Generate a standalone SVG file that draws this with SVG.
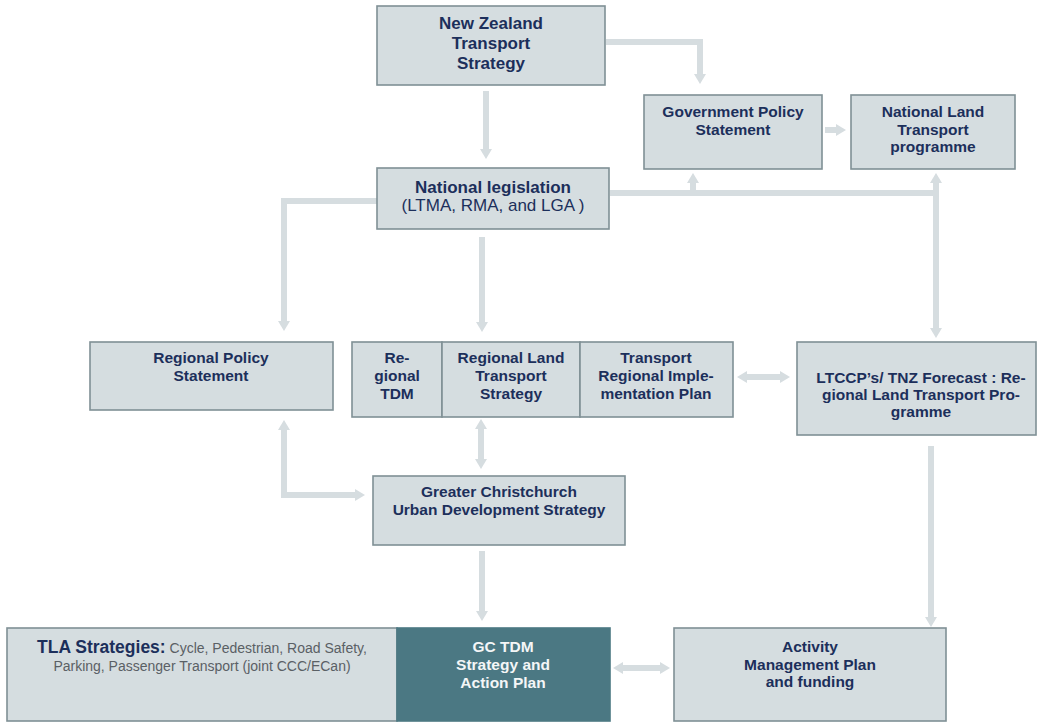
<svg xmlns="http://www.w3.org/2000/svg" width="1038" height="722" viewBox="0 0 1038 722">
<style>
.box{fill:#d5dde0;stroke:#7f9095;stroke-width:1.6}
.dark{fill:#4b7883;stroke:#4b7883;stroke-width:1.6}
.t{font-family:"Liberation Sans",Arial,sans-serif;font-weight:bold;font-size:15.5px;fill:#1c2f5b;text-anchor:middle}
.big{font-size:17px}
.w{fill:#f4f6f7}
.reg{font-family:"Liberation Sans",Arial,sans-serif;font-size:14px;fill:#5a6065}
.c{fill:none;stroke:#d6dde0;stroke-width:6}
</style>
<defs>
<marker id="ah" viewBox="0 0 10 12" markerWidth="10" markerHeight="12" refX="2" refY="6" orient="auto-start-reverse" markerUnits="userSpaceOnUse">
<path d="M0,0 L10,6 L0,12 z" fill="#d6dde0"/>
</marker>
</defs>
<rect width="1038" height="722" fill="#ffffff"/>
<g id="connectors">
<path class="c" d="M486,91 V151" marker-end="url(#ah)"/>
<path class="c" d="M606,42 H700 V76" marker-end="url(#ah)"/>
<path class="c" d="M825,130 H838" marker-end="url(#ah)"/>
<path class="c" d="M610,193 H936"/>
<path class="c" d="M693,193 V181" marker-end="url(#ah)"/>
<path class="c" d="M936,181 V330" marker-start="url(#ah)" marker-end="url(#ah)"/>
<path class="c" d="M377,201 H284 V323" marker-end="url(#ah)"/>
<path class="c" d="M482,237 V324" marker-end="url(#ah)"/>
<path class="c" d="M284,428 V495 H357" marker-start="url(#ah)" marker-end="url(#ah)"/>
<path class="c" d="M481,427 V461" marker-start="url(#ah)" marker-end="url(#ah)"/>
<path class="c" d="M482,551 V613" marker-end="url(#ah)"/>
<path class="c" d="M745,377 H782" marker-start="url(#ah)" marker-end="url(#ah)"/>
<path class="c" d="M931,446 V619" marker-end="url(#ah)"/>
<path class="c" d="M621,668 H662" marker-start="url(#ah)" marker-end="url(#ah)"/>
</g>
<g id="nzts">
<rect class="box" x="377" y="6" width="228" height="79"/>
<text class="t big" x="491" y="29">New Zealand</text>
<text class="t big" x="491" y="49">Transport</text>
<text class="t big" x="491" y="69">Strategy</text>
</g>
<g id="gps">
<rect class="box" x="644" y="95" width="178" height="74"/>
<text class="t" x="733" y="117">Government Policy</text>
<text class="t" x="733" y="135">Statement</text>
</g>
<g id="nltp">
<rect class="box" x="851" y="95" width="164" height="74"/>
<text class="t" x="933" y="117">National Land</text>
<text class="t" x="933" y="135">Transport</text>
<text class="t" x="933" y="152">programme</text>
</g>
<g id="national-legislation">
<rect class="box" x="377" y="168" width="232" height="61"/>
<text class="t big" x="493" y="193">National legislation</text>
<text class="t big" x="493" y="211" style="font-weight:normal">(LTMA, RMA, and LGA )</text>
</g>
<g id="rps">
<rect class="box" x="90" y="342" width="243" height="68"/>
<text class="t" x="211" y="363">Regional Policy</text>
<text class="t" x="211" y="381">Statement</text>
</g>
<g id="regional-tdm">
<rect class="box" x="352" y="342" width="90" height="75"/>
<text class="t" x="397" y="363">Re-</text>
<text class="t" x="397" y="381">gional</text>
<text class="t" x="397" y="399">TDM</text>
</g>
<g id="rlts">
<rect class="box" x="442" y="342" width="138" height="75"/>
<text class="t" x="511" y="363">Regional Land</text>
<text class="t" x="511" y="381">Transport</text>
<text class="t" x="511" y="399">Strategy</text>
</g>
<g id="trip">
<rect class="box" x="580" y="342" width="153" height="75"/>
<text class="t" x="656" y="363">Transport</text>
<text class="t" x="656" y="381">Regional Imple-</text>
<text class="t" x="656" y="399">mentation Plan</text>
</g>
<g id="ltccp">
<rect class="box" x="797" y="342" width="239" height="93"/>
<text class="t" x="921" y="383">LTCCP’s/ TNZ Forecast : Re-</text>
<text class="t" x="921" y="400">gional Land Transport Pro-</text>
<text class="t" x="921" y="417">gramme</text>
</g>
<g id="gcuds">
<rect class="box" x="373" y="476" width="252" height="69"/>
<text class="t" x="499" y="497">Greater Christchurch</text>
<text class="t" x="499" y="515">Urban Development Strategy</text>
</g>
<g id="tla">
<rect class="box" x="7" y="628" width="390" height="93"/>
<text x="202" y="653" text-anchor="middle"><tspan class="t" style="font-size:17.5px">TLA Strategies:</tspan><tspan class="reg"> Cycle, Pedestrian, Road Safety,</tspan></text>
<text class="reg" x="202" y="671" text-anchor="middle">Parking, Passenger Transport (joint CCC/ECan)</text>
</g>
<g id="gc-tdm">
<rect class="dark" x="397" y="628" width="213" height="93"/>
<text class="t w" x="503" y="652">GC TDM</text>
<text class="t w" x="503" y="670">Strategy and</text>
<text class="t w" x="503" y="688">Action Plan</text>
</g>
<g id="amp">
<rect class="box" x="674" y="628" width="272" height="93"/>
<text class="t" x="810" y="652">Activity</text>
<text class="t" x="810" y="670">Management Plan</text>
<text class="t" x="810" y="687">and funding</text>
</g>
</svg>
